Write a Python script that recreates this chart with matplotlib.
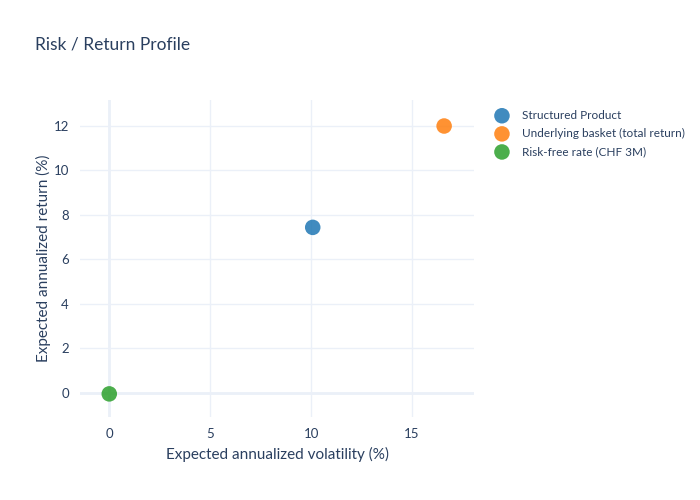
import matplotlib.pyplot as plt

# Data
names = ["Structured Product", "Underlying basket (total return)", "Risk-free rate (CHF 3M)"]
volatility = [10.08, 16.59, 0.0]
returns = [7.44, 12.0, -0.05]
colors = ["#1f77b4", "#ff7f0e", "#2ca02c"]

plt.rcParams['font.family'] = ['Lato', 'DejaVu Sans']
text_col = "#2a3f5f"
grid_col = "#ebf0f8"

fig = plt.figure(figsize=(7, 5), dpi=100)
ax = fig.add_axes([80 / 700, 1 - 417 / 500, 394 / 700, 317 / 500])

for n, x, y, c in zip(names, volatility, returns, colors):
    ax.scatter([x], [y], s=125, color=c, alpha=0.85, edgecolors="none", label=n, zorder=3)

ax.set_xlim(-1.45, 18.07)
ax.set_ylim(-1.09, 13.17)
ax.set_xticks([0, 5, 10, 15])
ax.set_yticks([0, 2, 4, 6, 8, 10, 12])
ax.grid(True, color=grid_col, linewidth=1)
ax.axhline(0, color=grid_col, linewidth=2, zorder=1)
ax.axvline(0, color=grid_col, linewidth=2, zorder=1)
ax.set_axisbelow(True)
for s in ax.spines.values():
    s.set_visible(False)
ax.tick_params(length=0, colors=text_col, labelsize=9.5, pad=8)

ax.set_xlabel("Expected annualized volatility (%)", color=text_col, fontsize=11, labelpad=5)
ax.set_ylabel("Expected annualized return (%)", color=text_col, fontsize=11, labelpad=2)

fig.text(35 / 700, 1 - 45 / 500, "Risk / Return Profile", color=text_col, fontsize=12.5, va="center")

leg = ax.legend(loc="upper left", bbox_to_anchor=(1.02, 0.995), frameon=False,
                fontsize=8.5, handletextpad=0.7, labelspacing=0.6, borderaxespad=0.3)
for t in leg.get_texts():
    t.set_color(text_col)

fig.savefig("out.png", dpi=100)
